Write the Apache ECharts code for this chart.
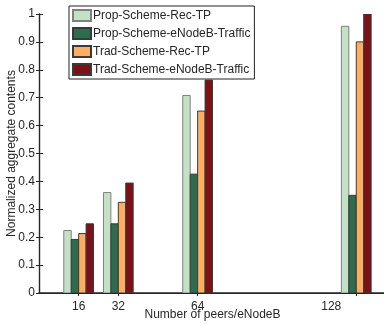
<!DOCTYPE html>
<html>
<head>
<meta charset="utf-8">
<script src="https://cdn.jsdelivr.net/npm/echarts@6/dist/echarts.min.js"></script>
<style>
  html, body { margin: 0; padding: 0; background: #fff; }
  #chart { width: 384px; height: 325px; }
</style>
</head>
<body>
<div id="chart"></div>
<script>
// Peers per eNodeB on the x axis
const peers = [16, 32, 64, 128];

// Normalized aggregate contents for each scheme
const propRecTP = [0.224, 0.360, 0.708, 0.956];
const propTraffic = [0.192, 0.248, 0.426, 0.350];
const tradRecTP = [0.213, 0.325, 0.652, 0.900];
const tradTraffic = [0.248, 0.394, 0.763, 1.000];

const seriesNames = [
  'Prop-Scheme-Rec-TP',
  'Prop-Scheme-eNodeB-Traffic',
  'Trad-Scheme-Rec-TP',
  'Trad-Scheme-eNodeB-Traffic'
];
const seriesValues = [propRecTP, propTraffic, tradRecTP, tradTraffic];
const seriesColors = ['#c4e1c7', '#2f6b4f', '#fdae63', '#7c1117'];
const edgeColors = ['#808080', '#3a3a3a', '#3a3a3a', '#3a3a3a'];

const yTicks = [0, 0.1, 0.2, 0.3, 0.4, 0.5, 0.6, 0.7, 0.8, 0.9, 1];

// each bar spans this many x units; a group of four is centred on its peer count
const BAR_UNITS = 3;

const FONT = 'Liberation Sans, Arial, sans-serif';
const TEXT = '#262626';
const AXIS = '#262626';

const chart = echarts.init(document.getElementById('chart'), null, { renderer: 'canvas' });

const frameAxis = (extra) => Object.assign({
  min: 0,
  axisLine: { show: true, lineStyle: { color: AXIS, width: 1 } },
  axisTick: { show: true, inside: true, length: 3, lineStyle: { color: AXIS } },
  axisLabel: { show: false },
  splitLine: { show: false }
}, extra);

function groupedBar(index) {
  return function (params, api) {
    const x = api.value(0);
    const y = api.value(1);
    const top = api.coord([x, y]);
    const base = api.coord([x, 0]);
    const w = api.size([BAR_UNITS, 0])[0];
    const left = top[0] - 2 * w + index * w;
    return {
      type: 'rect',
      shape: { x: left, y: top[1], width: w, height: base[1] - top[1] },
      style: {
        fill: seriesColors[index],
        stroke: edgeColors[index],
        lineWidth: 1
      }
    };
  };
}

chart.setOption({
  animation: false,
  backgroundColor: '#fff',
  textStyle: { fontFamily: FONT },
  grid: { left: 39, top: 14, width: 347, height: 279, containLabel: false, outerBoundsMode: 'none' },
  legend: {
    orient: 'vertical',
    left: 69,
    top: 6,
    padding: [3, 4, 3, 3],
    itemGap: 5,
    itemWidth: 18,
    itemHeight: 11,
    backgroundColor: '#fff',
    borderColor: '#222',
    borderWidth: 1,
    icon: 'rect',
    data: seriesNames,
    textStyle: { fontFamily: FONT, fontSize: 12, lineHeight: 11, color: TEXT, padding: [0, 0, 0, -3] }
  },
  xAxis: [
    frameAxis({
      type: 'value',
      position: 'bottom',
      max: 140,
      name: 'Number of peers/eNodeB',
      nameLocation: 'middle',
      nameGap: 16,
      nameMoveOverlap: false,
      nameTextStyle: { fontFamily: FONT, fontSize: 12, color: TEXT },
      axisLine: { show: true, lineStyle: { color: AXIS, width: 1.6 } },
      axisTick: { show: true, inside: true, length: 3, customValues: peers, lineStyle: { color: AXIS } },
      axisLabel: {
        show: true,
        customValues: peers,
        margin: 8,
        fontFamily: FONT,
        fontSize: 12,
        color: TEXT,
        formatter: (v) => (v === 128 ? '{s|' + v + '}' : String(v)),
        rich: { s: { fontFamily: FONT, fontSize: 12, color: TEXT, padding: [0, 50, 0, 0] } }
      }
    }),
    frameAxis({
      type: 'value',
      position: 'top',
      max: 140,
      axisTick: { show: true, inside: true, length: 3, customValues: peers, lineStyle: { color: AXIS } }
    })
  ],
  yAxis: [
    frameAxis({
      type: 'value',
      position: 'left',
      max: 1,
      interval: 0.1,
      name: 'Normalized aggregate contents',
      nameLocation: 'middle',
      nameGap: 21,
      nameMoveOverlap: false,
      nameTextStyle: { fontFamily: FONT, fontSize: 12, color: TEXT },
      axisLine: { show: true, lineStyle: { color: AXIS, width: 1.4 } },
      axisTick: { show: true, inside: true, length: 4, customValues: yTicks, lineStyle: { color: AXIS } },
      axisLabel: {
        show: true,
        customValues: yTicks,
        margin: 4,
        fontFamily: FONT,
        fontSize: 12,
        color: TEXT,
        formatter: (v) => String(Math.round(v * 10) / 10)
      }
    }),
    frameAxis({
      type: 'value',
      position: 'right',
      max: 1,
      interval: 0.1,
      axisTick: { show: true, inside: true, length: 3, customValues: yTicks, lineStyle: { color: AXIS } }
    })
  ],
  series: seriesNames.map((name, i) => ({
    name: name,
    type: 'custom',
    xAxisIndex: 0,
    yAxisIndex: 0,
    z: 1,
    clip: true,
    itemStyle: { color: seriesColors[i], borderColor: edgeColors[i], borderWidth: 1 },
    renderItem: groupedBar(i),
    encode: { x: 0, y: 1 },
    data: peers.map((p, j) => [p, seriesValues[i][j]])
  }))
});
</script>
</body>
</html>
